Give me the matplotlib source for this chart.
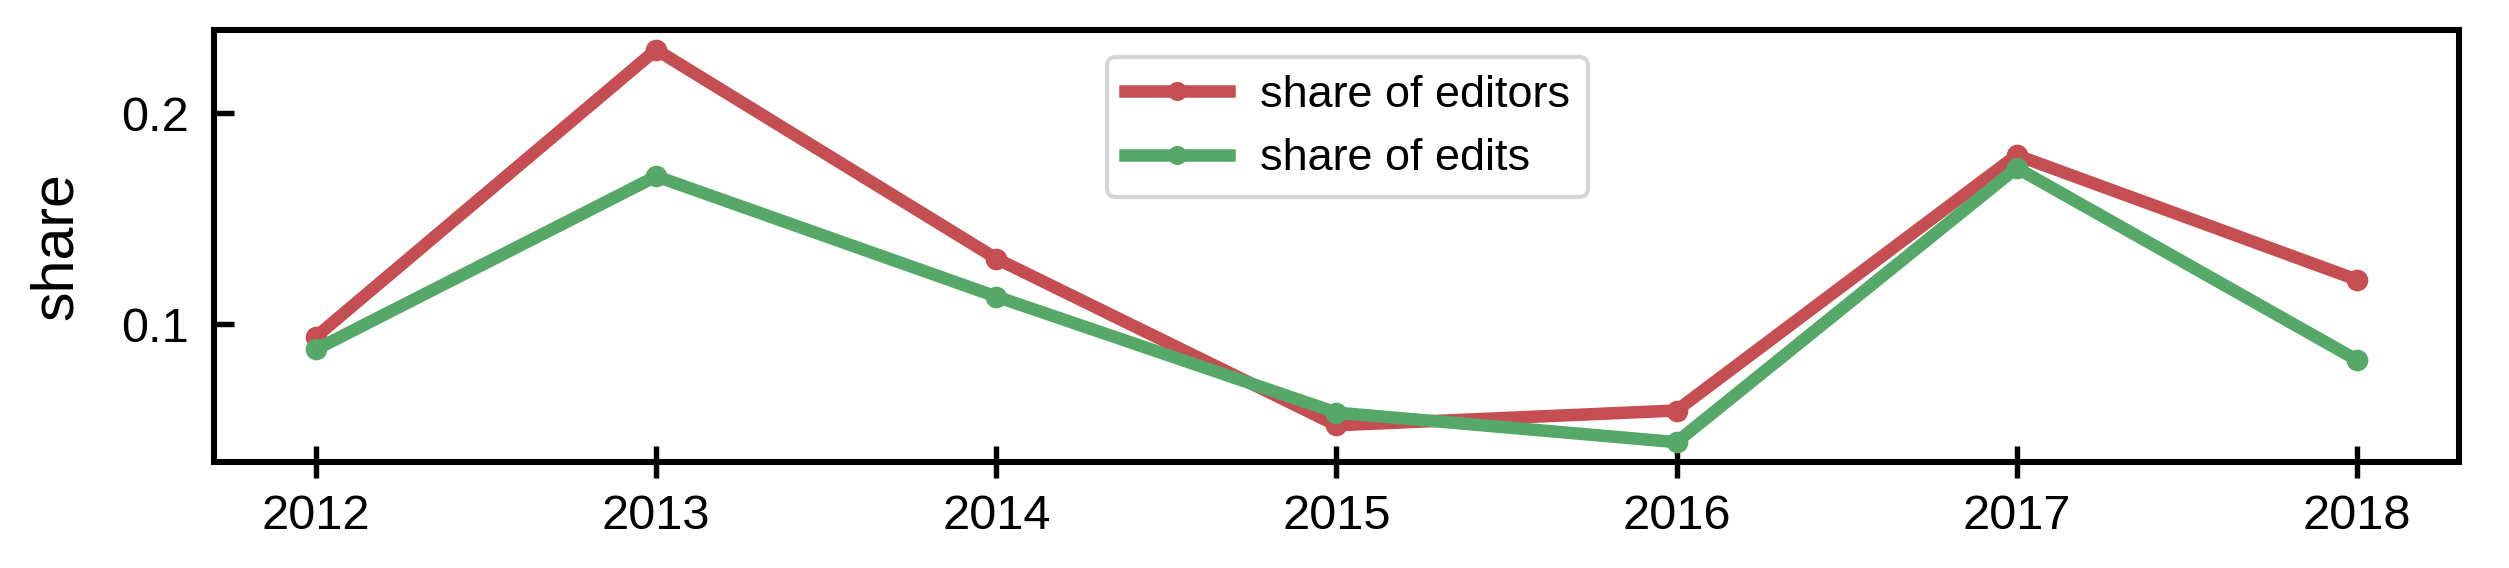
import matplotlib.pyplot as plt

plt.rcParams['font.family'] = ['Liberation Sans', 'DejaVu Sans']

years = [2012, 2013, 2014, 2015, 2016, 2017, 2018]
share_editors = [0.094, 0.230, 0.131, 0.052, 0.059, 0.180, 0.121]
share_edits = [0.088, 0.170, 0.113, 0.058, 0.044, 0.174, 0.083]

fig = plt.figure(figsize=(2509 / 300, 568 / 300), dpi=300)
ax = fig.add_axes([0.0853, 0.187, 0.8947, 0.760])

ax.plot(years, share_editors, color='#C44E52', lw=3.0, marker='o', ms=4.2, label='share of editors')
ax.plot(years, share_edits, color='#55A868', lw=3.0, marker='o', ms=4.2, label='share of edits')

ax.set_yticks([0.1, 0.2])
ax.set_ylabel('share', fontsize=14.2, labelpad=9)
ax.tick_params(axis='x', direction='inout', length=7.5, width=1.3, labelsize=11.7, pad=4)
ax.tick_params(axis='y', direction='in', length=4.8, width=1.3, labelsize=11.7, pad=6)
for s in ax.spines.values():
    s.set_linewidth(1.45)

ax.legend(loc='upper center', bbox_to_anchor=(0.505, 0.99), fontsize=10.8, frameon=True,
          edgecolor='#cccccc', handlelength=2.3, handletextpad=0.7, markerscale=0.85)

plt.savefig('out.png', dpi=300)
